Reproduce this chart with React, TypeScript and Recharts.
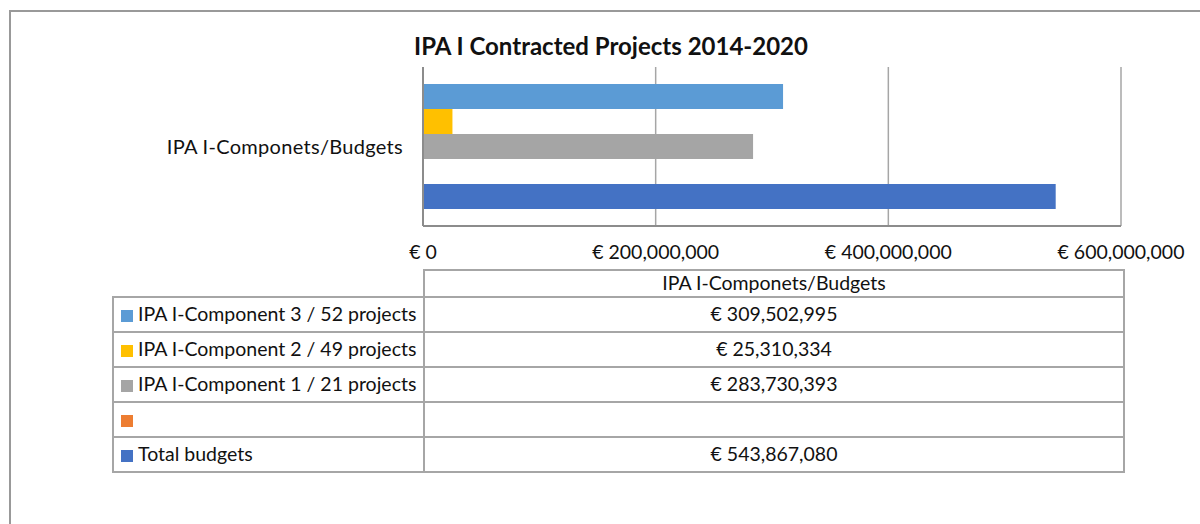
import React from "react";
import { BarChart, Bar, XAxis, YAxis, CartesianGrid } from "recharts";

const category = "IPA I-Componets/Budgets";
const seriesNames = [
  "IPA I-Component 3 / 52 projects",
  "IPA I-Component 2 / 49 projects",
  "IPA I-Component 1 / 21 projects",
  "",
  "Total budgets",
];
const seriesValues: (number | null)[] = [309502995, 25310334, 283730393, null, 543867080];
const seriesColors = ["#5B9BD5", "#FFC000", "#A5A5A5", "#ED7D31", "#4472C4"];
const xTicks = [0, 200000000, 400000000, 600000000];

const chartData = [
  seriesValues.reduce<Record<string, string | number | null>>(
    (row, v, i) => {
      row["s" + i] = v;
      return row;
    },
    { name: category }
  ),
];

const euro = (v: number) => `€ ${v.toLocaleString("en-US")}`;

const FONT = "Lato, 'Noto Sans', sans-serif";
const FS = 19.5;
const GRID = "#a6a6a6";
const cellBorder = `2px solid ${GRID}`;

export default function App() {
  return (
    <div
      style={{
        position: "fixed",
        left: 0,
        top: 0,
        width: 1200,
        height: 524,
        overflow: "hidden",
        background: "#fff",
        fontFamily: FONT,
        color: "#111",
      }}
    >
      <div
        style={{
          position: "absolute",
          left: 9,
          top: 10,
          width: 1300,
          height: 700,
          border: "2px solid #999",
        }}
      />
      <div
        style={{
          position: "absolute",
          left: 0,
          width: 1222,
          top: 31,
          textAlign: "center",
          fontSize: 24,
          fontWeight: 700,
        }}
      >
        IPA I Contracted Projects 2014-2020
      </div>

      <div style={{ position: "absolute", left: 0, top: 0 }}>
        <BarChart
          width={1200}
          height={300}
          data={chartData}
          layout="vertical"
          margin={{ top: 67, right: 79, bottom: 44, left: 163 }}
          barGap={0}
          barSize={25}
        >
          <CartesianGrid horizontal={false} stroke={GRID} strokeWidth={1.5} />
          <XAxis
            type="number"
            domain={[0, 600000000]}
            ticks={xTicks}
            tickFormatter={euro}
            height={30}
            tickLine={false}
            tickSize={0}
            tickMargin={19}
            axisLine={{ stroke: "#8c8c8c", strokeWidth: 2 }}
            tick={{ fill: "#111", fontSize: FS, fontFamily: FONT }}
            interval={0}
          />
          <YAxis
            type="category"
            dataKey="name"
            width={260}
            tickLine={false}
            tickSize={0}
            tickMargin={20}
            axisLine={{ stroke: "#8c8c8c", strokeWidth: 2 }}
            tick={{ fill: "#111", fontSize: 20, fontFamily: FONT, letterSpacing: 0.3 }}
          />
          {seriesValues.map((_, i) => (
            <Bar
              key={i}
              dataKey={"s" + i}
              name={seriesNames[i]}
              fill={seriesColors[i]}
              isAnimationActive={false}
            />
          ))}
        </BarChart>
      </div>

      <table
        style={{
          position: "absolute",
          left: 112,
          top: 269,
          borderCollapse: "collapse",
          fontSize: FS,
          fontFamily: FONT,
        }}
      >
        <tbody>
          <tr style={{ height: 26 }}>
            <td style={{ width: 310, padding: 0 }} />
            <td
              style={{
                width: 698,
                border: cellBorder,
                textAlign: "center",
                padding: "0 0 2px 0",
              }}
            >
              {category}
            </td>
          </tr>
          {seriesNames.map((name, i) => (
            <tr key={i} style={{ height: 35 }}>
              <td style={{ border: cellBorder, padding: "0 0 3px 7px", whiteSpace: "nowrap" }}>
                <span
                  style={{
                    display: "inline-block",
                    width: 12,
                    height: 12,
                    background: seriesColors[i],
                    marginRight: 5,
                    verticalAlign: "-1px",
                  }}
                />
                {name}
              </td>
              <td style={{ border: cellBorder, textAlign: "center", padding: "0 0 3px 0" }}>
                {seriesValues[i] == null ? "" : euro(seriesValues[i] as number)}
              </td>
            </tr>
          ))}
        </tbody>
      </table>
    </div>
  );
}
